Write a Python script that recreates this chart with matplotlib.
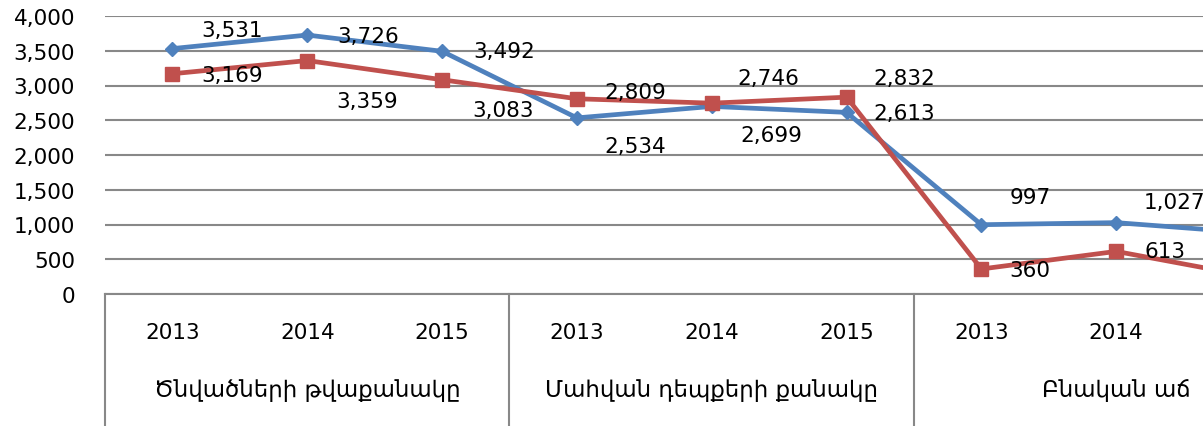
import matplotlib.pyplot as plt
from matplotlib.transforms import blended_transform_factory

plt.rcParams['font.family'] = ['DejaVu Sans']

groups = ['Ծնվածների թվաքանակը', 'Մահվան դեպքերի քանակը', 'Բնական աճ']
years = ['2013', '2014', '2015']
blue_vals = [3531, 3726, 3492, 2534, 2699, 2613, 997, 1027, 879]
red_vals = [3169, 3359, 3083, 2809, 2746, 2832, 360, 613, 251]

# label offsets in pixels (dx, dy)
blue_off = [(60, 19), (61, -1), (62, 0), (58, -28), (60, -29), (58, -1), (49, 28), (58, 21), (58, 0)]
red_off = [(60, -1), (60, -40), (61, -30), (58, 7), (57, 25), (58, 19), (48, -1), (49, 0), (58, 0)]

blue = '#4F81BD'
red = '#C0504D'
grid_c = '#888888'
fs = 15.5

fig = plt.figure(figsize=(12.03, 4.27), dpi=100)
ax = fig.add_axes([105 / 1203, 132 / 427, 1213.5 / 1203, 278 / 427])

x = list(range(len(blue_vals)))
ax.plot(x, blue_vals, color=blue, lw=3.4, marker='D', ms=7.5, zorder=3, clip_on=False)
ax.plot(x, red_vals, color=red, lw=3.4, marker='s', ms=10, zorder=3, clip_on=False)

for i in x:
    ax.annotate(f'{blue_vals[i]:,}', (i, blue_vals[i]), xytext=blue_off[i],
                textcoords='offset pixels', ha='center', va='center', fontsize=fs)
    ax.annotate(f'{red_vals[i]:,}', (i, red_vals[i]), xytext=red_off[i],
                textcoords='offset pixels', ha='center', va='center', fontsize=fs)

ax.set_xlim(-0.5, len(x) - 0.5)
ax.set_ylim(0, 4000)
ax.set_yticks(range(0, 4001, 500))
ax.set_yticklabels([f'{v:,}' for v in range(0, 4001, 500)], fontsize=fs)
ax.tick_params(axis='y', length=0, pad=21.6)
ax.set_xticks([])
ax.grid(axis='y', color=grid_c, lw=1.5)
ax.set_axisbelow(True)
for s in ['left', 'right', 'top']:
    ax.spines[s].set_visible(False)
ax.spines['bottom'].set_color(grid_c)
ax.spines['bottom'].set_linewidth(1.5)

trans = blended_transform_factory(ax.transData, ax.transAxes)
for i in x:
    ax.text(i, -0.137, years[i % 3], transform=trans, ha='center', va='center', fontsize=fs)
for g, name in enumerate(groups):
    ax.text(g * 3 + 1, -0.342, name, transform=trans, ha='center', va='center', fontsize=16.5)
    ax.plot([g * 3 - 0.5] * 2, [0, -0.5], transform=trans, color=grid_c, lw=1.5, clip_on=False)

fig.savefig('out.png', dpi=100)
